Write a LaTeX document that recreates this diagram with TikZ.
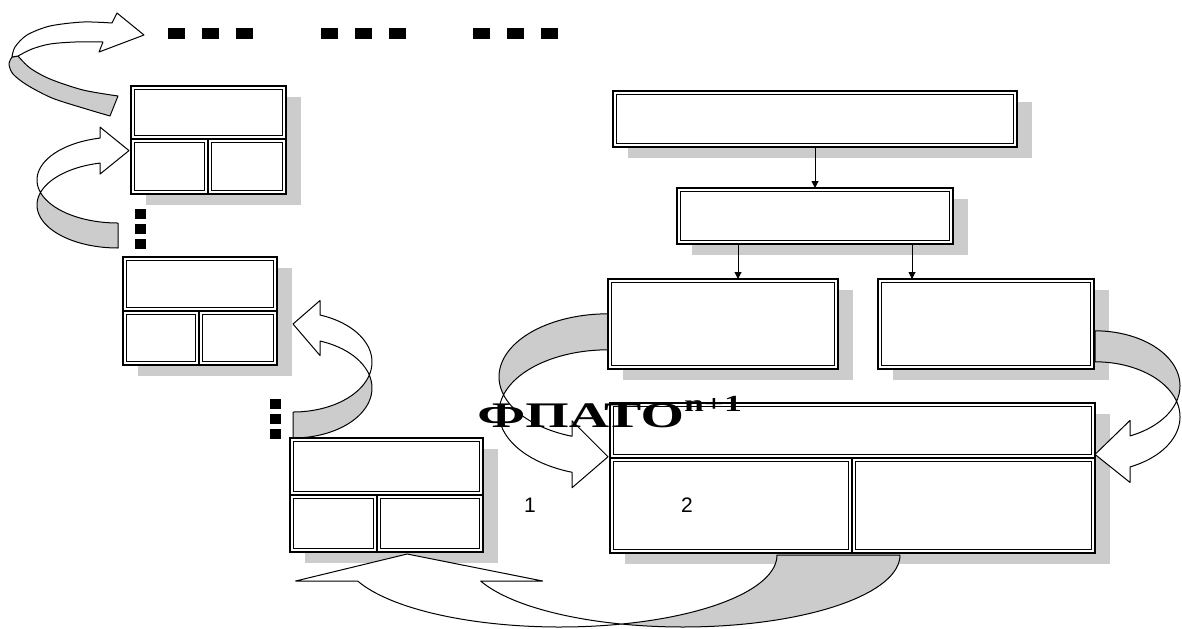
\documentclass[tikz,border=0pt]{standalone}
\usepackage{fontspec}
\setmainfont{Liberation Serif}
\newfontfamily\arialfont{Liberation Sans}
\usetikzlibrary{arrows.meta}
\definecolor{shadowgray}{RGB}{204,204,204}

% Word-style 3D curved ribbon arrow, local frame (pixel units, y down):
% upper ellipse centred at origin, lower one shifted by th; ribbon on the left,
% head at the top pointing right, tail at the bottom.
% #1 rx  #2 ry  #3 th  #4 head base offset  #5 head length  #6 barb  #7 tip skew
\newcommand\ribarrow[7]{%
  \pgfmathsetmacro\rA{asin(#3/(2*#2))}%
  \pgfmathsetmacro\tE{360-acos(-#4/#1)}%
  \pgfmathsetmacro\uA{180-\rA}%
  \pgfmathsetmacro\lA{180+\rA}%
  \pgfmathsetmacro\tipA{#6+#3/2+#7}%
  \pgfmathsetmacro\tipB{#6+#3/2-#7}%
  \filldraw[rib, fill=shadowgray] plot[domain=90:\uA] ({#1*cos(\x)},{#2*sin(\x)})
     -- plot[domain=\lA:90] ({#1*cos(\x)},{#3+#2*sin(\x)}) -- cycle;
  \filldraw[rib, fill=white] plot[domain=\uA:\tE] ({#1*cos(\x)},{#2*sin(\x)})
     -- ++(0,-#6) -- ++(#5,\tipA) -- ++(-#5,\tipB) -- ++(0,-#6)
     -- plot[domain=\tE:\lA] ({#1*cos(\x)},{#3+#2*sin(\x)}) -- cycle;
}
\newcommand\cellat[5]{%
  \node[cell, minimum width={(#4-#2)*0.5pt}, minimum height={(#5-#3)*0.5pt}]
    (#1) at ({(#2+#4)/2},{(#3+#5)/2}) {};}
\newcommand\shadowat[4]{\fill[shadowgray] (#1+15,#2+11) rectangle (#3+15,#4+11);}
\newcommand\sq[2]{\fill[black] (#1,#2) rectangle ++(17,11);}
\newcommand\vsq[2]{\fill[black] (#1,#2) rectangle ++(11,10);}

\begin{document}
\begin{tikzpicture}[x=0.5pt, y=-0.5pt,
  rib/.style={draw=black, line width=0.5pt, line join=round, samples=40},
  cell/.style={draw, line width=0.8pt, fill=white, inner sep=0pt, outer sep=0pt,
    path picture={\draw[line width=0.4pt]
      ([shift={(1.6pt,-1.6pt)}]path picture bounding box.north west) rectangle
      ([shift={(-1.6pt,1.6pt)}]path picture bounding box.south east);}},
  conn/.style={line width=0.5pt, -{Triangle[length=3.5pt,width=3.5pt]}}]
\useasboundingbox (0,0) rectangle (1182,628);

% shadows
\shadowat{131}{86}{286}{194}
\shadowat{123}{257}{277}{365}
\shadowat{290}{438}{483}{552}
\shadowat{613}{91}{1017}{147}
\shadowat{677}{188}{953}{244}
\shadowat{608}{279}{838}{369}
\shadowat{878}{279}{1094}{369}
\shadowat{610}{403}{1095}{553}

% curved ribbon arrows
% A1 (top left, towards the dashes)
\filldraw[rib, fill=shadowgray] plot[smooth] coordinates {(18,56) (30,68) (50,79) (83,90) (118,96)}
   -- (110,116) -- plot[smooth] coordinates {(110,116) (83,108) (52,98) (27,85) (13,74) (9,64) (12,57)} -- cycle;
\filldraw[rib, fill=white] plot[smooth] coordinates {(12,57) (15,47) (27,35) (50,26) (83,22) (112,23)}
   -- (117,13) -- (144,35) -- (99,52) -- (103,42)
   -- plot[smooth] coordinates {(103,42) (75,42) (50,44) (32,49) (18,56)} -- cycle;
% A2
\begin{scope}[shift={(118,180)}]
  \ribarrow{81}{43}{25}{18}{29}{11}{0}
\end{scope}
% A3
\begin{scope}[shift={(293,362)}, xscale=-1]
  \ribarrow{79}{50}{26}{27}{27}{14.5}{-4}
\end{scope}
% A4
\begin{scope}[shift={(608,412.8)}, yscale=-1]
  \ribarrow{109}{63}{36}{36}{36}{15.5}{-2.5}
\end{scope}
% A5
\begin{scope}[shift={(1095,416.8)}, xscale=-1, yscale=-1]
  \ribarrow{85}{55}{31}{35}{35}{15.5}{-3}
\end{scope}
% A6 (bottom)
\begin{scope}[shift={(560,555)}, rotate=90]
  \ribarrow{72}{217}{123}{26}{27}{62}{-12}
\end{scope}

% boxes
\cellat{Atop}{131}{86}{286}{139}
\cellat{Abl}{131}{139}{208}{194}
\cellat{Abr}{208}{139}{286}{194}
\cellat{Btop}{123}{257}{277}{311}
\cellat{Bbl}{123}{311}{199}{365}
\cellat{Bbr}{199}{311}{277}{365}
\cellat{Ctop}{290}{438}{483}{495}
\cellat{Cbl}{290}{495}{377}{552}
\cellat{Cbr}{377}{495}{483}{552}
\cellat{D}{613}{91}{1017}{147}
\cellat{E}{677}{188}{953}{244}
\cellat{F}{608}{279}{838}{369}
\cellat{G}{878}{279}{1094}{369}
\cellat{Htop}{610}{403}{1095}{458}
\cellat{Hbl}{610}{458}{852}{553}
\cellat{Hbr}{852}{458}{1095}{553}

% connectors
\coordinate (xEF) at (738,0);
\coordinate (xEG) at (912,0);
\draw[conn] (D.south) -- (E.north);
\draw[conn] (E.south -| xEF) -- (F.north -| xEF);
\draw[conn] (E.south -| xEG) -- (G.north -| xEG);

% dots
\sq{168}{28}\sq{202}{28}\sq{236}{28}
\sq{321}{28}\sq{355}{28}\sq{389}{28}
\sq{473}{28}\sq{507}{28}\sq{541}{28}
\vsq{135}{209}\vsq{135}{224}\vsq{135}{239}
\vsq{270}{399}\vsq{270}{414}\vsq{270}{429}

% texts
\node[anchor=base west, inner sep=0pt] (title) at (477,427)
  {\scalebox{1.55}[1]{\fontsize{18}{20}\selectfont\bfseries ФПАТО\raisebox{8pt}{\fontsize{11.5}{12}\selectfont n+1}}};
\node[font=\arialfont\fontsize{10.5}{12}\selectfont, inner sep=0pt] (n1) at (530,505) {1};
\node[font=\arialfont\fontsize{10.5}{12}\selectfont, inner sep=0pt] (n2) at (687,505) {2};
\end{tikzpicture}
\end{document}
